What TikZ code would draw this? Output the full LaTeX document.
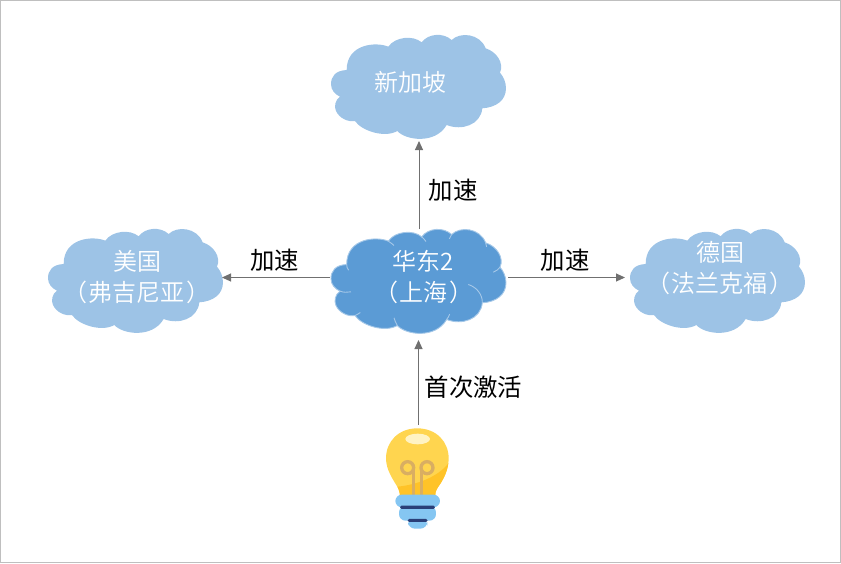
\documentclass[tikz,border=0pt]{standalone}
\usepackage{fontspec}
\setmainfont{Noto Sans CJK SC}
\newfontfamily\cloudfont{Noto Sans CJK SC DemiLight}
\usetikzlibrary{arrows.meta}
\definecolor{lightcloud}{HTML}{9DC3E6}
\definecolor{hubcloud}{HTML}{5B9BD5}
\definecolor{conn}{HTML}{707070}
\definecolor{frameg}{HTML}{BFBFBF}
\definecolor{bulbY}{HTML}{FFD54F}
\definecolor{bulbO}{HTML}{FFC328}
\definecolor{bulbH}{HTML}{FFF3C4}
\definecolor{fil}{HTML}{D9AE62}
\definecolor{baseB}{HTML}{85C6F2}
\definecolor{baseD}{HTML}{2A3F78}
\def\cloudpath{
  (80,135) .. controls (45,137) and (33,155) .. (33,178)
  .. controls (33,195) and (45,208) .. (60,215)
  .. controls (45,225) and (42,245) .. (48,258)
  .. controls (58,280) and (85,292) .. (105,288)
  .. controls (125,318) and (195,340) .. (232,318)
  .. controls (255,345) and (345,360) .. (380,300)
  .. controls (425,318) and (482,300) .. (487,250)
  .. controls (530,247) and (558,225) .. (558,190)
  .. controls (558,170) and (550,155) .. (540,143)
  .. controls (553,115) and (530,80) .. (497,70)
  .. controls (480,25) and (420,20) .. (395,45)
  .. controls (370,22) and (325,25) .. (305,52)
  .. controls (280,30) and (225,35) .. (205,65)
  .. controls (170,50) and (80,55) .. (80,135) -- cycle}
\newcommand{\lp}{（\kern1.5pt}
\newcommand{\rp}{\kern1.5pt）}
\tikzset{
  x=1pt,y=-1pt,
  cloudfill/.style={fill=lightcloud,draw=none},
  cloudhub/.style={fill=hubcloud,draw=white!45!hubcloud,line width=0.9},
  innerarc/.style={draw=white!45!hubcloud,line width=0.9,fill=none},
  anchorbox/.style={draw=none,fill=none,inner sep=0pt,outer sep=0pt,rectangle},
  cloudtext/.style={text=white,font=\cloudfont\fontsize{24}{31}\selectfont,align=center,inner sep=0pt},
  edgetext/.style={text=black,font=\fontsize{24.4}{30}\selectfont,inner sep=0pt},
  link/.style={draw=conn,line width=1,-{Triangle[length=9,width=8]}},
}
\begin{document}
\begin{tikzpicture}
\useasboundingbox (0,0) rectangle (841,563);
\draw[frameg,line width=1] (0.5,0.5) rectangle (840.5,562.5);
% clouds
\fill[cloudfill,shift={(320,25)},x=0.3333pt,y=-0.3333pt] \cloudpath;
\fill[cloudfill,shift={(37,219)},x=0.3333pt,y=-0.3333pt] \cloudpath;
\fill[cloudfill,shift={(619,219)},x=0.3333pt,y=-0.3333pt] \cloudpath;
\begin{scope}[shift={(320,219.5)},x=0.3333pt,y=-0.3333pt]
\draw[cloudhub] \cloudpath;
\draw[innerarc] (80,135) .. controls (80,142) and (82,148) .. (86,152);
\draw[innerarc] (60,215) .. controls (70,219) and (82,219) .. (93,217);
\draw[innerarc] (105,288) .. controls (110,286) and (116,283) .. (121,279);
\draw[innerarc] (232,318) .. controls (228,311) and (224,303) .. (222,295);
\draw[innerarc] (380,300) .. controls (384,295) and (387,290) .. (389,284);
\draw[innerarc] (487,250) .. controls (488,225) and (470,203) .. (445,195);
\draw[innerarc] (540,143) .. controls (535,150) and (528,155) .. (520,158);
\draw[innerarc] (497,70) .. controls (499,74) and (500,78) .. (500,82);
\draw[innerarc] (395,45) .. controls (392,49) and (390,53) .. (388,58);
\draw[innerarc] (305,52) .. controls (310,56) and (314,60) .. (318,66);
\draw[innerarc] (205,65) .. controls (211,69) and (217,73) .. (222,78);
\end{scope}
% cloud extents
\node[anchorbox,minimum width=176,minimum height=100] (sg) at (419,91) {};
\node[anchorbox,minimum width=178,minimum height=97] (hub) at (419,277.5) {};
\node[anchorbox,minimum width=176,minimum height=100] (us) at (134,277.5) {};
\node[anchorbox,minimum width=176,minimum height=100] (de) at (713,277.5) {};
% bulb
\begin{scope}[shift={(370,420)},x=0.3333pt,y=-0.3333pt]
\fill[bulbY] (142,25) .. controls (85,25) and (48,65) .. (48,115)
  .. controls (48,150) and (70,180) .. (85,205)
  .. controls (90,215) and (90,225) .. (90,230) -- (195,230)
  .. controls (195,220) and (198,210) .. (205,200)
  .. controls (220,180) and (236,150) .. (236,115)
  .. controls (236,65) and (199,25) .. (142,25) -- cycle;
\fill[bulbO] (82,200) .. controls (140,195) and (205,170) .. (235,130)
  .. controls (232,155) and (218,182) .. (205,200)
  .. controls (198,210) and (195,220) .. (195,230) -- (90,230)
  .. controls (90,222) and (88,212) .. (82,200) -- cycle;
\fill[bulbH] (143,57) ellipse [x radius=37,y radius=16];
\draw[fil,line width=3.3] (113,143) circle [radius=18];
\draw[fil,line width=3.3] (171,143) circle [radius=18];
\draw[fil,line width=3.3] (130,150) -- (130,226);
\draw[fil,line width=3.3] (155,150) -- (155,226);
\fill[baseB,rounded corners=7] (114,296) rectangle (172,326);
\fill[baseB,rounded corners=6.5] (87,258) rectangle (198,302);
\fill[baseB,rounded corners=6.5] (76,224) rectangle (210,262);
\fill[baseD,rounded corners=1.5] (90,257) rectangle (195,267);
\fill[baseD,rounded corners=1.5] (113,297) rectangle (173,306);
\end{scope}
\node[anchorbox,minimum width=64,minimum height=104] (bulb) at (418.5,477) {};
% labels
\node[cloudtext] (sgT) at (410.5,82) {新加坡};
\node[cloudtext] (hubT) at (423.5,277.5) {华东2\\\lp 上海\rp};
\node[cloudtext] (usT) at (137,277.5) {美国\\\lp 弗吉尼亚\rp};
\node[cloudtext] (deT) at (720,268.5) {德国\\\lp 法兰克福\rp};
\node[edgetext] (e1) at (453,190) {加速};
\node[edgetext] (e2) at (274.5,260) {加速};
\node[edgetext] (e3) at (565,260) {加速};
\node[edgetext] (e4) at (473.5,387) {首次激活};
% connectors
\draw[link] (hub.north) -- (sg.south);
\draw[link] (hub.west) -- (us.east);
\draw[link] (hub.east) -- (de.west);
\draw[link,shorten >=14] (bulb.north) -- (bulb.north |- hub.south);
\end{tikzpicture}
\end{document}
